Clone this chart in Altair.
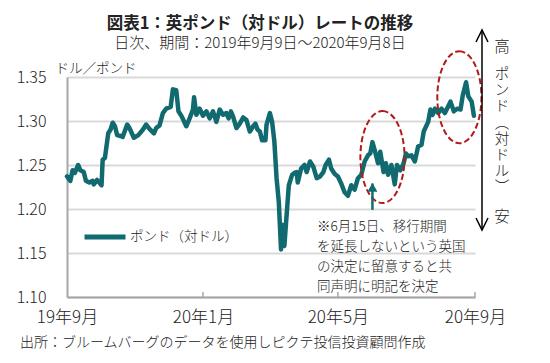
import altair as alt
import pandas as pd

# ---------------- data ----------------
dates = [
    "2019-09-09", "2019-09-12", "2019-09-14", "2019-09-16", "2019-09-19", "2019-09-21",
    "2019-09-24", "2019-09-26", "2019-09-29", "2019-10-02", "2019-10-03", "2019-10-06",
    "2019-10-08", "2019-10-10", "2019-10-11", "2019-10-13", "2019-10-16", "2019-10-18",
    "2019-10-20", "2019-10-22", "2019-10-24", "2019-10-27", "2019-10-29", "2019-11-02",
    "2019-11-04", "2019-11-08", "2019-11-12", "2019-11-16", "2019-11-19", "2019-11-22",
    "2019-11-26", "2019-11-28", "2019-12-01", "2019-12-04", "2019-12-07", "2019-12-11",
    "2019-12-13", "2019-12-16", "2019-12-18", "2019-12-21", "2019-12-25", "2019-12-28",
    "2019-12-31", "2020-01-01", "2020-01-03", "2020-01-06", "2020-01-09", "2020-01-12",
    "2020-01-15", "2020-01-18", "2020-01-21", "2020-01-24", "2020-01-27", "2020-01-30",
    "2020-02-01", "2020-02-03", "2020-02-05", "2020-02-08", "2020-02-11", "2020-02-14",
    "2020-02-17", "2020-02-20", "2020-02-23", "2020-02-25", "2020-02-27", "2020-02-29",
    "2020-03-02", "2020-03-05", "2020-03-06", "2020-03-09", "2020-03-11", "2020-03-13",
    "2020-03-15", "2020-03-17", "2020-03-19", "2020-03-20", "2020-03-22", "2020-03-24",
    "2020-03-26", "2020-03-29", "2020-03-31", "2020-04-02", "2020-04-03", "2020-04-06",
    "2020-04-09", "2020-04-11", "2020-04-14", "2020-04-17", "2020-04-20", "2020-04-23",
    "2020-04-26", "2020-04-28", "2020-05-01", "2020-05-03", "2020-05-06", "2020-05-09",
    "2020-05-12", "2020-05-15", "2020-05-18", "2020-05-21", "2020-05-24", "2020-05-27",
    "2020-05-30", "2020-06-02", "2020-06-05", "2020-06-07", "2020-06-09", "2020-06-11",
    "2020-06-14", "2020-06-16", "2020-06-19", "2020-06-21", "2020-06-23", "2020-06-26",
    "2020-06-29", "2020-07-01", "2020-07-04", "2020-07-07", "2020-07-09", "2020-07-11",
    "2020-07-14", "2020-07-17", "2020-07-20", "2020-07-23", "2020-07-25", "2020-07-29",
    "2020-07-31", "2020-08-02", "2020-08-04", "2020-08-07", "2020-08-10", "2020-08-13",
    "2020-08-18", "2020-08-21", "2020-08-24", "2020-08-27", "2020-08-29", "2020-09-01",
    "2020-09-03", "2020-09-06", "2020-09-08",
]
rates = [
    1.237, 1.232, 1.244, 1.241, 1.250, 1.244,
    1.242, 1.232, 1.230, 1.232, 1.228, 1.233,
    1.230, 1.227, 1.256, 1.258, 1.286, 1.290,
    1.298, 1.294, 1.284, 1.283, 1.282, 1.296,
    1.292, 1.281, 1.284, 1.290, 1.296, 1.291,
    1.286, 1.292, 1.295, 1.309, 1.314, 1.316,
    1.336, 1.335, 1.311, 1.305, 1.294, 1.303,
    1.313, 1.327, 1.307, 1.314, 1.306, 1.311,
    1.303, 1.311, 1.299, 1.313, 1.307, 1.309,
    1.303, 1.311, 1.305, 1.292, 1.297, 1.304,
    1.301, 1.288, 1.294, 1.297, 1.290, 1.288,
    1.278, 1.278, 1.296, 1.309, 1.299, 1.277,
    1.235, 1.208, 1.154, 1.182, 1.158, 1.193,
    1.227, 1.239, 1.241, 1.242, 1.230, 1.246,
    1.250, 1.242, 1.254, 1.248, 1.235, 1.237,
    1.242, 1.250, 1.256, 1.246, 1.240, 1.237,
    1.229, 1.219, 1.215, 1.227, 1.222, 1.235,
    1.239, 1.254, 1.261, 1.263, 1.276, 1.267,
    1.252, 1.265, 1.242, 1.252, 1.239, 1.250,
    1.228, 1.250, 1.244, 1.252, 1.263, 1.260,
    1.261, 1.254, 1.271, 1.273, 1.288, 1.299,
    1.313, 1.307, 1.314, 1.309, 1.314, 1.309,
    1.322, 1.311, 1.314, 1.313, 1.329, 1.344,
    1.328, 1.322, 1.306,
]
series_name = "ポンド（対ドル）"

x_domain = ["2019-09-09", "2020-09-09"]
x_tick_dates = ["2019-09-09", "2020-01-09", "2020-05-09", "2020-09-09"]
inner_tick_dates = ["2020-01-09", "2020-05-09", "2020-09-09"]
y_ticks = [1.10, 1.15, 1.20, 1.25, 1.30, 1.35]
y_domain = [1.10, 1.35]

ellipse_dates = ["2020-06-18", "2020-08-26"]
ellipse_rates = [1.259, 1.327]

marker_date = ["2020-06-09"]
marker_from = [1.199]
marker_to = [1.229]
marker_head = [1.2245]

title_text = "図表1：英ポンド（対ドル）レートの推移"
subtitle_text = "日次、期間：2019年9月9日～2020年9月8日"
y_unit_text = "ドル／ポンド"
source_text = "出所：ブルームバーグのデータを使用しピクテ投信投資顧問作成"
note_lines = ["※6月15日、移行期間", "を延長しないという英国", "の決定に留意すると共", "同声明に明記を決定"]
high_text = "高"
low_text = "安"
side_lines = ["ポ", "ン", "ド", "︵", "対", "ド", "ル", "︶"]

# ---------------- style ----------------
FONT = "Noto Sans CJK JP"
TEAL = "#116A6F"
RED = "#B31B1B"
TXT = "#222222"
LIGHT = 300
ELLIPSE = ("M0,-1C0.265,-1,0.48,-0.5523,0.48,0C0.48,0.5523,0.265,1,0,1"
           "C-0.265,1,-0.48,0.5523,-0.48,0C-0.48,-0.5523,-0.265,-1,0,-1Z")


def dt(s):
    y, m, d = (int(v) for v in s.split("-"))
    return alt.DateTime(year=y, month=m, date=d, utc=True)


x_scale = alt.Scale(type="utc", domain=[dt(s) for s in x_domain])
y_scale = alt.Scale(domain=y_domain, nice=False, zero=False)

x_axis = alt.Axis(
    title=None, values=[dt(s) for s in x_tick_dates],
    labelExpr="utcFormat(datum.value, '%y年%-m月')",
    ticks=False, grid=False, domainColor="#A6A6A6", domainWidth=2,
    labelFont=FONT, labelFontSize=17, labelFontWeight=LIGHT, labelColor=TXT,
    labelPadding=12, labelFlush=False, labelOverlap=False,
)
y_axis = alt.Axis(
    title=y_unit_text, titleAngle=0, titleAlign="left", titleBaseline="middle",
    titleX=-12, titleY=-9, titleFont=FONT, titleFontSize=13.5,
    titleFontWeight=LIGHT, titleColor=TXT,
    values=y_ticks, format=".2f", ticks=False, labelPadding=21,
    labelFont=FONT, labelFontSize=16, labelFontWeight=LIGHT, labelColor=TXT,
    grid=True, gridColor="#D9D9D9", gridWidth=2,
    domainColor="#A6A6A6", domainWidth=2,
)


def X(field):
    return alt.X(field, type="temporal", scale=x_scale, axis=x_axis)


def Y(field):
    return alt.Y(field, type="quantitative", scale=y_scale, axis=y_axis)


df = pd.DataFrame({"date": dates, "rate": rates, "series": series_name})

line = alt.Chart(df).mark_line(strokeWidth=4.5, strokeJoin="round", strokeCap="round").encode(
    x=X("date"),
    y=Y("rate"),
    color=alt.Color(
        "series:N", scale=alt.Scale(range=[TEAL]),
        legend=alt.Legend(
            title=None, orient="none", legendX=15, legendY=137,
            symbolType="stroke", symbolSize=1681, symbolStrokeWidth=5,
            labelFont=FONT, labelFontSize=13.5, labelFontWeight=LIGHT,
            labelColor=TXT, labelOffset=2, padding=0,
        ),
    ),
)

ticks_df = pd.DataFrame({"date": inner_tick_dates})
inner_ticks = alt.Chart(ticks_df).mark_rule(color="#A6A6A6", strokeWidth=1.5).encode(
    x=X("date"), y=alt.value(220), y2=alt.value(215)
)

ell_df = pd.DataFrame({"date": ellipse_dates, "rate": ellipse_rates})
ellipses = alt.Chart(ell_df).mark_point(
    shape=ELLIPSE, size=8464, filled=False, color=RED, stroke=RED,
    strokeWidth=2, strokeDash=[6, 3], opacity=1,
).encode(x=X("date"), y=Y("rate"))

mk_df = pd.DataFrame({"date": marker_date, "rate": marker_from, "rate2": marker_to, "head": marker_head})
marker_rule = alt.Chart(mk_df).mark_rule(color=TEAL, strokeWidth=2.5).encode(
    x=X("date"), y=Y("rate"), y2="rate2"
)
marker_head_mk = alt.Chart(mk_df).mark_point(
    shape="triangle-up", size=100, filled=True, color=TEAL, opacity=1
).encode(x=X("date"), y=Y("head"))

one = pd.DataFrame({"k": [0]})


def label(text, x, y, size, weight=LIGHT, **kw):
    return alt.Chart(one).mark_text(
        text=text, font=FONT, fontSize=size, fontWeight=weight, color=TXT, **kw
    ).encode(x=alt.value(x), y=alt.value(y))


title = label(title_text, 193, -53, 16.5, weight="bold", align="center", baseline="middle")
subtitle = label(subtitle_text, 193, -34, 15, align="center", baseline="middle")
source = label(source_text, -47, 266, 14, align="left", baseline="middle")
note = label(note_lines, 250, 143, 13.5, align="left", baseline="top", lineHeight=20)
high = label(high_text, 435, -30, 15.5, align="center", baseline="middle")
low = label(low_text, 435, 140, 15.5, align="center", baseline="middle")
side = label(side_lines, 435, -9, 14.5, align="center", baseline="top", lineHeight=16.2)

side_rule = alt.Chart(one).mark_rule(color="black", strokeWidth=1.5).encode(
    x=alt.value(415), y=alt.value(-47), y2=alt.value(153)
)
head_top = alt.Chart(one).mark_point(
    shape="M-1,2L0,0L1,2", size=144, filled=False, stroke="black", color="black",
    strokeWidth=1.5, opacity=1,
).encode(x=alt.value(415), y=alt.value(-47))
head_bottom = alt.Chart(one).mark_point(
    shape="M-1,-2L0,0L1,-2", size=144, filled=False, stroke="black", color="black",
    strokeWidth=1.5, opacity=1,
).encode(x=alt.value(415), y=alt.value(153))

chart = alt.layer(
    line, inner_ticks, ellipses, marker_rule, marker_head_mk,
    title, subtitle, source, note, high, low, side, side_rule, head_top, head_bottom,
).properties(
    width=408, height=220,
    padding={"left": 59, "top": 69, "right": 65, "bottom": 55},
    autosize=alt.AutoSizeParams(type="none"),
    background="white",
).configure_view(stroke="transparent")

chart.save("out.html", embed_options={"renderer": "svg", "actions": False})
